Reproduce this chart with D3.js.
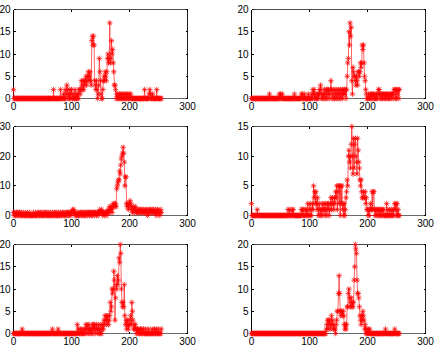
<!DOCTYPE html>
<html>
<head>
<meta charset="utf-8">
<script src="https://cdn.jsdelivr.net/npm/d3@7"></script>
<style>
  body { margin: 0; background: #fff; }
  svg { display: block; }
</style>
</head>
<body>
<div id="chart"></div>
<script>
// Six 256-bin histograms, 16 bins per row
const histTopLeft = [
  2,0,0,0,0,0,0,0,0,0,0,0,0,0,0,0,
  0,0,0,0,0,0,0,0,0,0,0,0,0,0,0,0,
  0,0,0,0,0,0,0,0,0,0,0,0,0,0,0,0,
  0,0,0,0,0,0,0,0,0,0,0,0,0,0,0,0,
  0,0,0,0,0,2,0,0,0,0,0,0,0,0,0,0,
  0,2,0,0,0,0,1,0,0,2,0,1,3,2,0,1,
  0,2,0,1,2,0,0,1,0,0,2,0,1,0,0,1,
  0,2,2,1,2,4,3,2,4,2,4,3,4,5,3,4,
  5,6,4,5,6,4,3,13,14,12,14,12,4,3,2,4,
  2,0,1,3,9,6,4,1,0,0,2,4,5,4,6,5,
  4,6,9,10,8,9,17,8,9,13,10,11,8,6,3,3,
  2,0,1,0,1,0,0,1,0,1,0,1,0,0,1,0,
  1,0,0,1,0,1,0,0,1,0,1,0,0,0,0,0,
  0,0,0,0,0,0,0,0,0,0,0,0,0,0,0,0,
  0,0,2,0,0,0,0,0,0,0,1,2,1,0,0,0,
  1,0,0,0,0,0,0,2,0,0,0,0,0,0,0,0
];
const histTopRight = [
  0,0,0,0,0,0,0,0,0,0,0,0,0,0,0,0,
  0,0,0,0,0,0,0,0,0,0,0,0,0,0,0,1,
  0,0,0,0,0,0,0,0,0,0,0,0,0,0,0,0,
  1,0,1,0,0,1,0,0,0,0,0,0,0,0,0,0,
  0,0,0,0,0,0,0,0,0,0,1,0,0,0,0,0,
  0,0,0,0,0,0,1,0,1,0,0,1,0,0,0,0,
  0,0,1,0,0,0,0,0,1,0,2,1,2,0,1,0,
  0,0,1,1,0,2,1,3,2,0,1,0,1,0,2,1,
  0,2,0,2,1,2,0,1,2,4,2,0,1,2,0,0,
  2,1,0,2,1,0,2,0,1,2,0,1,2,0,2,1,
  2,1,2,0,2,5,8,9,15,12,17,14,16,4,1,7,
  6,5,5,4,3,5,4,3,6,6,5,6,8,7,8,12,
  11,12,8,5,4,2,1,0,0,0,1,0,0,1,0,1,
  0,1,1,0,0,1,0,1,0,0,1,2,2,1,0,1,
  0,1,0,1,1,0,1,0,1,1,0,1,0,1,0,1,
  1,0,1,1,0,1,2,2,0,2,0,2,1,2,0,2
];
const histMidLeft = [
  1,0,1,0,0,1,1,0,1,0,1,1,0,0,1,0,
  0,1,0,0,0,1,0,0,1,0,0,0,1,0,0,0,
  0,0,1,0,0,0,1,0,0,0,1,1,0,0,1,0,
  1,0,0,1,0,0,1,1,0,0,1,0,0,1,0,0,
  1,0,0,1,0,0,0,1,1,0,0,1,0,0,1,0,
  0,1,0,0,1,1,0,1,0,0,1,0,1,1,0,1,
  0,1,1,0,1,1,2,1,2,1,0,1,0,0,1,0,
  0,1,0,1,1,0,1,0,1,1,0,0,1,0,1,1,
  0,1,1,0,1,1,0,1,0,1,1,1,0,1,1,0,
  1,1,0,1,1,2,1,1,2,1,0,1,1,0,1,1,
  1,0,1,2,1,1,3,2,3,2,1,3,4,3,4,3,
  4,3,9,10,11,12,12,15,14,17,19,20,21,23,21,18,
  10,13,13,4,3,4,2,3,4,5,4,3,2,1,2,3,
  1,2,3,2,1,2,1,1,2,1,2,2,1,2,1,1,
  2,1,1,2,1,2,1,0,2,1,1,2,2,1,1,2,
  1,2,1,1,2,1,0,1,2,2,1,1,0,1,2,1
];
const histMidRight = [
  2,0,0,0,0,0,0,0,0,0,1,0,0,0,0,0,
  0,0,0,0,0,0,0,0,0,0,0,0,0,0,0,0,
  0,0,0,0,0,0,0,0,0,0,0,0,0,0,0,0,
  0,0,0,0,0,0,0,0,0,0,0,0,0,0,0,1,
  0,0,1,0,0,0,1,0,1,0,0,0,0,0,0,0,
  0,0,0,0,0,0,1,0,1,1,0,0,0,1,0,1,
  0,2,0,0,1,2,0,0,1,2,1,5,3,4,2,4,
  2,1,3,0,1,2,0,1,0,1,2,0,1,2,1,0,
  2,1,0,2,1,2,0,1,2,3,1,2,3,2,1,3,
  2,4,3,5,1,4,5,2,5,0,5,2,5,1,2,0,
  2,0,1,3,4,6,5,10,11,9,10,8,12,15,10,7,
  13,8,12,13,10,9,7,13,11,9,8,6,5,6,4,3,
  3,4,3,3,4,2,3,1,1,0,1,0,1,2,1,1,
  4,1,4,4,1,0,1,0,1,1,0,1,0,1,0,1,
  0,1,1,0,1,0,0,0,0,2,0,1,0,0,1,0,
  0,1,0,0,1,0,1,2,1,2,0,2,0,1,0,0
];
const histBotLeft = [
  0,0,0,0,0,0,0,0,0,0,0,0,0,0,0,1,
  0,0,0,0,0,0,0,0,0,0,0,0,0,0,0,0,
  0,0,0,0,0,0,0,0,0,0,0,0,0,0,0,0,
  0,0,0,0,0,0,0,0,0,0,0,0,0,0,0,0,
  0,0,0,1,0,0,0,0,0,0,0,0,0,1,0,0,
  0,0,0,0,0,0,0,0,0,0,0,0,0,0,0,0,
  0,0,0,0,0,0,0,0,0,0,0,0,0,0,2,0,
  1,0,0,1,0,0,1,0,0,0,1,0,1,2,0,2,
  1,0,2,1,0,1,0,1,2,0,2,1,2,0,1,2,
  1,0,1,2,0,1,0,2,0,1,2,1,3,2,4,3,
  4,2,3,4,2,3,4,7,5,6,10,9,10,14,12,3,
  8,11,10,13,11,12,17,16,20,18,10,7,6,7,6,11,
  4,2,3,1,2,3,1,2,2,3,4,2,7,5,3,1,
  2,1,2,1,0,1,1,0,1,0,0,1,0,1,0,0,
  1,0,0,0,1,0,0,0,0,1,0,0,0,0,0,1,
  0,0,0,1,0,0,1,0,0,0,1,0,0,0,0,1
];
const histBotRight = [
  0,0,0,0,0,0,0,0,0,0,0,0,0,0,0,0,
  0,0,0,0,0,0,0,0,0,0,0,0,0,0,0,0,
  0,0,0,0,0,0,0,0,0,0,0,0,0,0,0,0,
  0,0,0,0,0,0,0,0,0,0,0,0,0,0,0,0,
  0,0,0,0,0,0,0,0,0,0,0,0,0,0,0,0,
  0,0,0,0,0,0,0,0,0,0,0,0,0,0,0,0,
  0,0,0,0,0,0,0,0,0,0,0,0,0,0,0,0,
  0,0,0,0,0,0,0,0,0,0,0,0,0,0,0,0,
  0,1,2,3,1,3,2,3,1,2,4,2,3,1,2,1,
  1,0,2,3,5,5,9,13,9,5,4,5,5,4,5,4,
  2,1,2,1,2,6,6,9,10,8,7,6,8,6,7,6,
  7,12,15,20,19,18,12,9,9,8,6,4,3,2,4,3,
  5,4,3,1,2,0,1,0,0,1,0,0,1,0,0,0,
  0,0,0,0,0,0,0,0,0,0,0,0,0,0,0,0,
  0,0,0,0,0,0,0,1,0,0,0,0,0,0,0,0,
  0,0,0,0,0,0,0,1,0,0,0,0,0,0,0,0
];

const xTicks = [0, 100, 200, 300];
const yTicks20 = [0, 5, 10, 15, 20];
const yTicks30 = [0, 10, 20, 30];
const yTicks15 = [0, 5, 10, 15];

const panels = [
  { values: histTopLeft,  yTicks: yTicks20, col: 0, row: 0 },
  { values: histTopRight, yTicks: yTicks20, col: 1, row: 0 },
  { values: histMidLeft,  yTicks: yTicks30, col: 0, row: 1 },
  { values: histMidRight, yTicks: yTicks15, col: 1, row: 1 },
  { values: histBotLeft,  yTicks: yTicks20, col: 0, row: 2 },
  { values: histBotRight, yTicks: yTicks20, col: 1, row: 2 },
];

const WIDTH = 436, HEIGHT = 347;
const COL_LEFT = [13, 251];
const ROW_TOP = [9, 126, 244];
const AX_W = 174, AX_H = 89;
const TICK = 2;
const RED = '#ff0000';
const FONT = '"Liberation Sans", Arial, Helvetica, sans-serif';

// matlab style '*' marker: a plus laid over a cross
function asterisk(r) {
  const k = r * Math.SQRT1_2;
  return `M${-r},0L${r},0M0,${-r}L0,${r}M${-k},${-k}L${k},${k}M${-k},${k}L${k},${-k}`;
}

const svg = d3.select('#chart').append('svg')
  .attr('width', WIDTH)
  .attr('height', HEIGHT);

panels.forEach(p => {
  const left = COL_LEFT[p.col] + 0.5;
  const top = ROW_TOP[p.row] + 0.5;
  const yMax = d3.max(p.yTicks);

  const x = d3.scaleLinear().domain([0, 300]).range([left, left + AX_W]);
  const y = d3.scaleLinear().domain([0, yMax]).range([top + AX_H, top]);

  const g = svg.append('g');

  // box: verticals black, horizontals a bit softer like the original
  const box = g.append('g').attr('shape-rendering', 'crispEdges').attr('stroke-width', 1);
  box.append('line').attr('x1', left).attr('x2', left + AX_W)
    .attr('y1', top).attr('y2', top).attr('stroke', '#4a4a4a');
  box.append('line').attr('x1', left).attr('x2', left + AX_W)
    .attr('y1', top + AX_H).attr('y2', top + AX_H).attr('stroke', '#6a6a6a');
  box.append('line').attr('x1', left).attr('x2', left)
    .attr('y1', top).attr('y2', top + AX_H).attr('stroke', '#000');
  box.append('line').attr('x1', left + AX_W).attr('x2', left + AX_W)
    .attr('y1', top).attr('y2', top + AX_H).attr('stroke', '#222');

  // inward ticks on all four sides
  const ticks = g.append('g').attr('stroke', '#000').attr('stroke-width', 1)
    .attr('shape-rendering', 'crispEdges');
  xTicks.forEach(t => {
    ticks.append('line').attr('x1', x(t)).attr('x2', x(t))
      .attr('y1', top + AX_H).attr('y2', top + AX_H - TICK);
    ticks.append('line').attr('x1', x(t)).attr('x2', x(t))
      .attr('y1', top).attr('y2', top + TICK);
  });
  p.yTicks.forEach(t => {
    ticks.append('line').attr('x1', left).attr('x2', left + TICK)
      .attr('y1', y(t)).attr('y2', y(t));
    ticks.append('line').attr('x1', left + AX_W).attr('x2', left + AX_W - TICK)
      .attr('y1', y(t)).attr('y2', y(t));
  });

  // tick labels
  g.append('g')
    .selectAll('text')
    .data(xTicks)
    .join('text')
    .attr('x', d => x(d))
    .attr('y', top + AX_H + 11)
    .attr('text-anchor', 'middle')
    .attr('font-family', FONT)
    .attr('font-size', 10)
    .attr('fill', '#000')
    .text(d => d);

  g.append('g')
    .selectAll('text')
    .data(p.yTicks)
    .join('text')
    .attr('x', left - 3)
    .attr('y', d => y(d))
    .attr('dy', '0.35em')
    .attr('text-anchor', 'end')
    .attr('font-family', FONT)
    .attr('font-size', 10)
    .attr('fill', '#000')
    .text(d => d);

  // line
  const line = d3.line()
    .x((d, i) => x(i))
    .y(d => y(d));

  g.append('path')
    .datum(p.values)
    .attr('d', line)
    .attr('fill', 'none')
    .attr('stroke', RED)
    .attr('stroke-width', 0.6);

  // markers
  g.append('g')
    .selectAll('path')
    .data(p.values)
    .join('path')
    .attr('transform', (d, i) => `translate(${x(i)},${y(d)})`)
    .attr('d', asterisk(2.8))
    .attr('fill', 'none')
    .attr('stroke', RED)
    .attr('stroke-width', 0.7);
});
</script>
</body>
</html>
